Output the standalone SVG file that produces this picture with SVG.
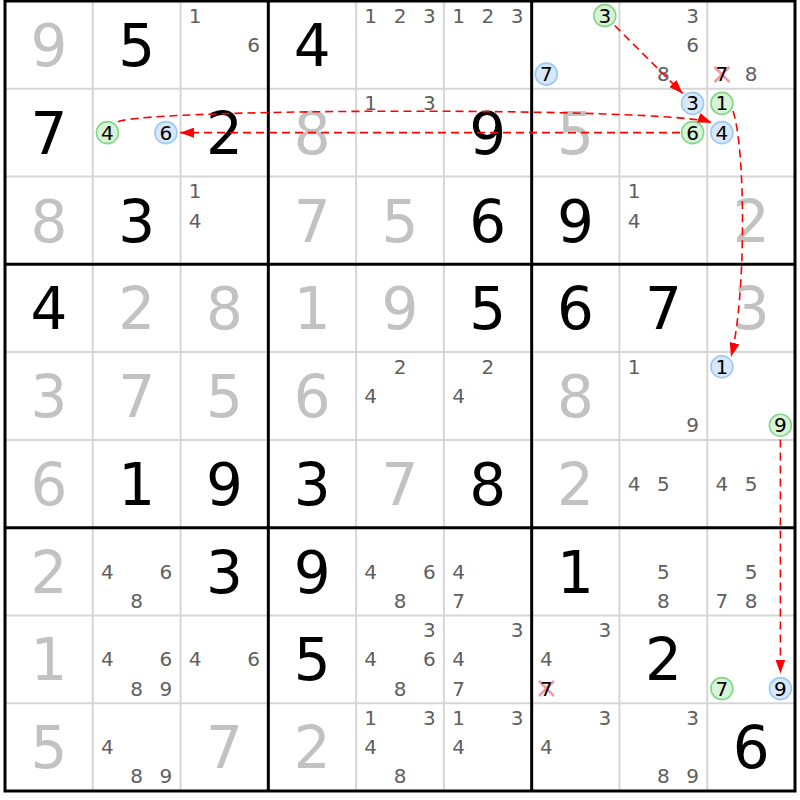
<svg xmlns="http://www.w3.org/2000/svg" width="800" height="800" viewBox="0 0 800 800">
<defs>
<style>
text{font-family:"DejaVu Sans","Liberation Sans",sans-serif;text-anchor:middle}
.b{font-size:58px;fill:#000}
.s{font-size:58px;fill:#c2c2c2}
.c{font-size:20px;fill:#5f5f5f}
.k{font-size:20px;fill:#000}
.thin{stroke:#d6d6d6;stroke-width:2;fill:none}
.thick{stroke:#000;stroke-width:3;fill:none}
.gc{fill:#d6f3d6;stroke:#85d68a;stroke-width:1.6}
.bc{fill:#d8e8fb;stroke:#9cc9f5;stroke-width:1.6}
.x{stroke:#f49aa5;stroke-width:2.6;fill:none}
.lk{stroke:#ff0000;stroke-width:1.6;stroke-dasharray:8 5;fill:none;marker-end:url(#ah)}
</style>
<marker id="ah" markerUnits="userSpaceOnUse" markerWidth="14" markerHeight="10" refX="14" refY="5" orient="auto">
<path d="M0,0 L14,5 L0,10 Z" fill="#ff0000"/>
</marker>
</defs>
<rect x="0" y="0" width="800" height="800" fill="#fff"/>
<g id="grid">
<path class="thin" d="M92.78,1V791M180.56,1V791M356.11,1V791M443.89,1V791M619.44,1V791M707.22,1V791M5,88.78H795M5,176.56H795M5,352.11H795M5,439.89H795M5,615.44H795M5,703.22H795"/>
<path class="thick" d="M268.33,1V791M531.67,1V791M5,264.33H795M5,527.67H795"/>
<rect class="thick" x="5" y="1" width="790" height="790"/>
</g>
<g id="r1">
<g id="r1c1"><text class="s" x="48.89" y="66">9</text></g>
<g id="r1c2"><text class="b" x="136.67" y="66">5</text></g>
<g id="r1c3"><text class="c" x="195.2" y="22.6">1</text><text class="c" x="253.7" y="51.9">6</text></g>
<g id="r1c4"><text class="b" x="312.22" y="66">4</text></g>
<g id="r1c5"><text class="c" x="370.7" y="22.6">1</text><text class="c" x="400" y="22.6">2</text><text class="c" x="429.3" y="22.6">3</text></g>
<g id="r1c6"><text class="c" x="458.5" y="22.6">1</text><text class="c" x="487.8" y="22.6">2</text><text class="c" x="517" y="22.6">3</text></g>
<g id="r1c7"><circle class="gc" cx="604.8" cy="15.63" r="11"/><text class="k" x="604.8" y="22.6">3</text><circle class="bc" cx="546.3" cy="74.15" r="11"/><text class="k" x="546.3" y="81.2">7</text></g>
<g id="r1c8"><text class="c" x="692.6" y="22.6">3</text><text class="c" x="692.6" y="51.9">6</text><text class="c" x="663.3" y="81.2">8</text></g>
<g id="r1c9"><path class="x" d="M714.5,67L729.5,82M729.5,67L714.5,82"/><text class="k" x="721.9" y="81.2">7</text><text class="c" x="751.1" y="81.2">8</text></g>
</g>
<g id="r2">
<g id="r2c1"><text class="b" x="48.89" y="153.8">7</text></g>
<g id="r2c2"><circle class="gc" cx="107.4" cy="132.67" r="11"/><text class="k" x="107.4" y="139.7">4</text><circle class="bc" cx="165.9" cy="132.67" r="11"/><text class="k" x="165.9" y="139.7">6</text></g>
<g id="r2c3"><text class="b" x="224.45" y="153.8">2</text></g>
<g id="r2c4"><text class="s" x="312.22" y="153.8">8</text></g>
<g id="r2c5"><text class="c" x="370.7" y="110.4">1</text><text class="c" x="429.3" y="110.4">3</text></g>
<g id="r2c6"><text class="b" x="487.78" y="153.8">9</text></g>
<g id="r2c7"><text class="s" x="575.56" y="153.8">5</text></g>
<g id="r2c8"><circle class="bc" cx="692.6" cy="103.41" r="11"/><text class="k" x="692.6" y="110.4">3</text><circle class="gc" cx="692.6" cy="132.67" r="11"/><text class="k" x="692.6" y="139.7">6</text></g>
<g id="r2c9"><circle class="gc" cx="721.9" cy="103.41" r="11"/><text class="k" x="721.9" y="110.4">1</text><circle class="bc" cx="721.9" cy="132.67" r="11"/><text class="k" x="721.9" y="139.7">4</text></g>
</g>
<g id="r3">
<g id="r3c1"><text class="s" x="48.89" y="241.5">8</text></g>
<g id="r3c2"><text class="b" x="136.67" y="241.5">3</text></g>
<g id="r3c3"><text class="c" x="195.2" y="198.2">1</text><text class="c" x="195.2" y="227.5">4</text></g>
<g id="r3c4"><text class="s" x="312.22" y="241.5">7</text></g>
<g id="r3c5"><text class="s" x="400" y="241.5">5</text></g>
<g id="r3c6"><text class="b" x="487.78" y="241.5">6</text></g>
<g id="r3c7"><text class="b" x="575.56" y="241.5">9</text></g>
<g id="r3c8"><text class="c" x="634.1" y="198.2">1</text><text class="c" x="634.1" y="227.5">4</text></g>
<g id="r3c9"><text class="s" x="751.11" y="241.5">2</text></g>
</g>
<g id="r4">
<g id="r4c1"><text class="b" x="48.89" y="329.3">4</text></g>
<g id="r4c2"><text class="s" x="136.67" y="329.3">2</text></g>
<g id="r4c3"><text class="s" x="224.45" y="329.3">8</text></g>
<g id="r4c4"><text class="s" x="312.22" y="329.3">1</text></g>
<g id="r4c5"><text class="s" x="400" y="329.3">9</text></g>
<g id="r4c6"><text class="b" x="487.78" y="329.3">5</text></g>
<g id="r4c7"><text class="b" x="575.56" y="329.3">6</text></g>
<g id="r4c8"><text class="b" x="663.33" y="329.3">7</text></g>
<g id="r4c9"><text class="s" x="751.11" y="329.3">3</text></g>
</g>
<g id="r5">
<g id="r5c1"><text class="s" x="48.89" y="417.1">3</text></g>
<g id="r5c2"><text class="s" x="136.67" y="417.1">7</text></g>
<g id="r5c3"><text class="s" x="224.45" y="417.1">5</text></g>
<g id="r5c4"><text class="s" x="312.22" y="417.1">6</text></g>
<g id="r5c5"><text class="c" x="400" y="373.7">2</text><text class="c" x="370.7" y="403">4</text></g>
<g id="r5c6"><text class="c" x="487.8" y="373.7">2</text><text class="c" x="458.5" y="403">4</text></g>
<g id="r5c7"><text class="s" x="575.56" y="417.1">8</text></g>
<g id="r5c8"><text class="c" x="634.1" y="373.7">1</text><text class="c" x="692.6" y="432.3">9</text></g>
<g id="r5c9"><circle class="bc" cx="721.9" cy="366.74" r="11"/><text class="k" x="721.9" y="373.7">1</text><circle class="gc" cx="780.4" cy="425.26" r="11"/><text class="k" x="780.4" y="432.3">9</text></g>
</g>
<g id="r6">
<g id="r6c1"><text class="s" x="48.89" y="504.9">6</text></g>
<g id="r6c2"><text class="b" x="136.67" y="504.9">1</text></g>
<g id="r6c3"><text class="b" x="224.45" y="504.9">9</text></g>
<g id="r6c4"><text class="b" x="312.22" y="504.9">3</text></g>
<g id="r6c5"><text class="s" x="400" y="504.9">7</text></g>
<g id="r6c6"><text class="b" x="487.78" y="504.9">8</text></g>
<g id="r6c7"><text class="s" x="575.56" y="504.9">2</text></g>
<g id="r6c8"><text class="c" x="634.1" y="490.8">4</text><text class="c" x="663.3" y="490.8">5</text></g>
<g id="r6c9"><text class="c" x="721.9" y="490.8">4</text><text class="c" x="751.1" y="490.8">5</text></g>
</g>
<g id="r7">
<g id="r7c1"><text class="s" x="48.89" y="592.7">2</text></g>
<g id="r7c2"><text class="c" x="107.4" y="578.6">4</text><text class="c" x="165.9" y="578.6">6</text><text class="c" x="136.7" y="607.8">8</text></g>
<g id="r7c3"><text class="b" x="224.45" y="592.7">3</text></g>
<g id="r7c4"><text class="b" x="312.22" y="592.7">9</text></g>
<g id="r7c5"><text class="c" x="370.7" y="578.6">4</text><text class="c" x="429.3" y="578.6">6</text><text class="c" x="400" y="607.8">8</text></g>
<g id="r7c6"><text class="c" x="458.5" y="578.6">4</text><text class="c" x="458.5" y="607.8">7</text></g>
<g id="r7c7"><text class="b" x="575.56" y="592.7">1</text></g>
<g id="r7c8"><text class="c" x="663.3" y="578.6">5</text><text class="c" x="663.3" y="607.8">8</text></g>
<g id="r7c9"><text class="c" x="751.1" y="578.6">5</text><text class="c" x="721.9" y="607.8">7</text><text class="c" x="751.1" y="607.8">8</text></g>
</g>
<g id="r8">
<g id="r8c1"><text class="s" x="48.89" y="680.4">1</text></g>
<g id="r8c2"><text class="c" x="107.4" y="666.3">4</text><text class="c" x="165.9" y="666.3">6</text><text class="c" x="136.7" y="695.6">8</text><text class="c" x="165.9" y="695.6">9</text></g>
<g id="r8c3"><text class="c" x="195.2" y="666.3">4</text><text class="c" x="253.7" y="666.3">6</text></g>
<g id="r8c4"><text class="b" x="312.22" y="680.4">5</text></g>
<g id="r8c5"><text class="c" x="429.3" y="637.1">3</text><text class="c" x="370.7" y="666.3">4</text><text class="c" x="429.3" y="666.3">6</text><text class="c" x="400" y="695.6">8</text></g>
<g id="r8c6"><text class="c" x="517" y="637.1">3</text><text class="c" x="458.5" y="666.3">4</text><text class="c" x="458.5" y="695.6">7</text></g>
<g id="r8c7"><text class="c" x="604.8" y="637.1">3</text><text class="c" x="546.3" y="666.3">4</text><path class="x" d="M539,681L554,696M554,681L539,696"/><text class="k" x="546.3" y="695.6">7</text></g>
<g id="r8c8"><text class="b" x="663.33" y="680.4">2</text></g>
<g id="r8c9"><circle class="gc" cx="721.9" cy="688.59" r="11"/><text class="k" x="721.9" y="695.6">7</text><circle class="bc" cx="780.4" cy="688.59" r="11"/><text class="k" x="780.4" y="695.6">9</text></g>
</g>
<g id="r9">
<g id="r9c1"><text class="s" x="48.89" y="768.2">5</text></g>
<g id="r9c2"><text class="c" x="107.4" y="754.1">4</text><text class="c" x="136.7" y="783.4">8</text><text class="c" x="165.9" y="783.4">9</text></g>
<g id="r9c3"><text class="s" x="224.45" y="768.2">7</text></g>
<g id="r9c4"><text class="s" x="312.22" y="768.2">2</text></g>
<g id="r9c5"><text class="c" x="370.7" y="724.9">1</text><text class="c" x="429.3" y="724.9">3</text><text class="c" x="370.7" y="754.1">4</text><text class="c" x="400" y="783.4">8</text></g>
<g id="r9c6"><text class="c" x="458.5" y="724.9">1</text><text class="c" x="517" y="724.9">3</text><text class="c" x="458.5" y="754.1">4</text></g>
<g id="r9c7"><text class="c" x="604.8" y="724.9">3</text><text class="c" x="546.3" y="754.1">4</text></g>
<g id="r9c8"><text class="c" x="692.6" y="724.9">3</text><text class="c" x="663.3" y="783.4">8</text><text class="c" x="692.6" y="783.4">9</text></g>
<g id="r9c9"><text class="b" x="751.11" y="768.2">6</text></g>
</g>
<g id="links">
<path class="lk" d="M614.7,25.5L682.7,93.5"/>
<path class="lk" d="M680,132.67L180,132.67"/>
<path class="lk" d="M118,121.7C150,108 670,107 711.7,122.7"/>
<path class="lk" d="M733,111C746,150 746,300 731,356.7"/>
<path class="lk" d="M780.4,439.5L780.4,673.5"/>
</g>
</svg>
